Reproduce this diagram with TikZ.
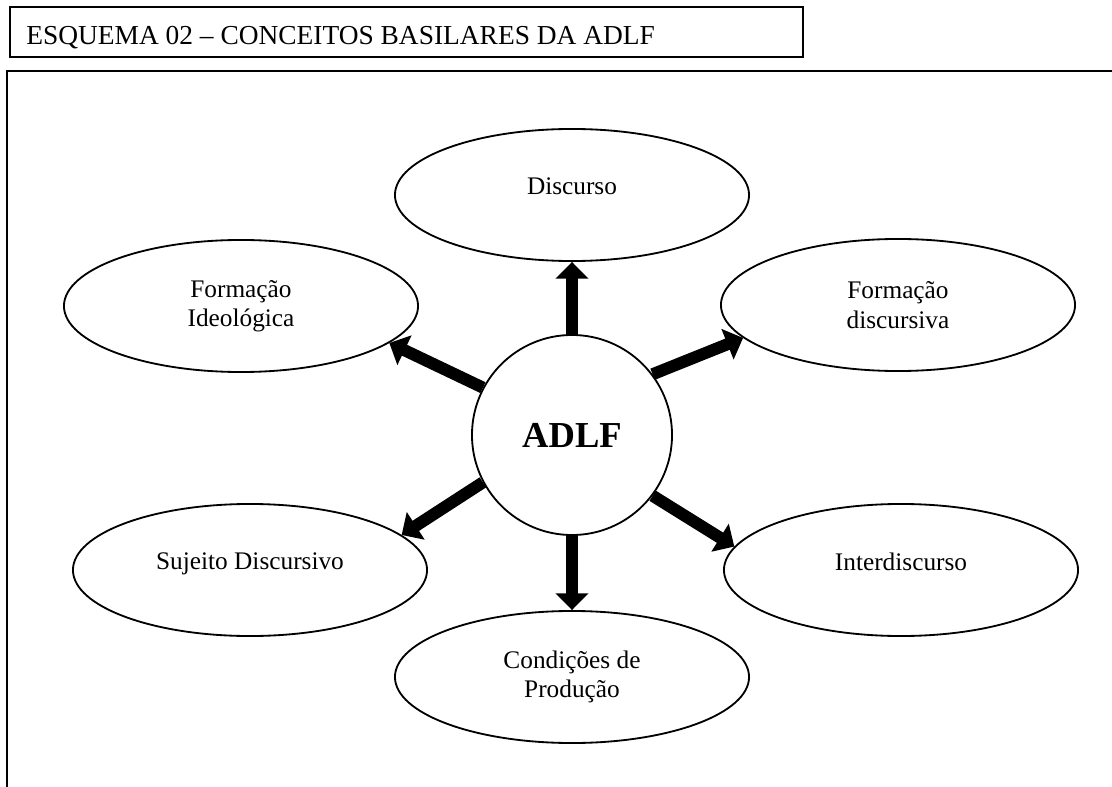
\documentclass[tikz,border=0pt]{standalone}
\usepackage{fontspec}
\setmainfont{Liberation Serif}
\usetikzlibrary{arrows.meta,shapes.geometric}

\tikzset{
  conceito/.style={draw, ellipse, line width=1.3pt, inner sep=0pt,
    minimum width=8.85cm, minimum height=3.3cm, align=center,
    font=\fontsize{18}{21}\selectfont},
  umalinha/.style={text depth=0.42cm},
  seta/.style={line width=0.3cm, -{Triangle[length=0.42cm,width=0.8cm]}}
}

\begin{document}
\begin{tikzpicture}[x=0.025cm, y=-0.025cm]
\useasboundingbox (0,0) rectangle (1112,787);

% Titulo
\draw[line width=1.1pt] (10,7) rectangle (803,57);
\node[anchor=base west, inner sep=0pt, font=\fontsize{19.5}{22}\selectfont] (titulo) at (26,45)
  {ESQUEMA 02 -- CONCEITOS BASILARES DA ADLF};

% Moldura
\draw[line width=2.1pt] (7,800) -- (7,71) -- (1120,71);

% Centro
\node[draw, circle, line width=1.3pt, minimum size=5cm, inner sep=0pt,
  font=\fontsize{26}{30}\selectfont\bfseries] (adlf) at (572,435) {ADLF};

% Conceitos
\node[conceito, umalinha] (disc) at (572,195) {Discurso};
\node[conceito] (fideo) at (241,306) {Formação\\Ideológica};
\node[conceito] (fdisc) at (898,305) {Formação\\discursiva};
\node[conceito, umalinha] (sujeito) at (250,570) {Sujeito Discursivo};
\node[conceito, umalinha] (inter) at (901,570) {Interdiscurso};
\node[conceito] (cond) at (572,677) {Condições de\\Produção};

% Setas
\draw[seta] (adlf.north) -- (disc.south);
\draw[seta] (adlf.152) -- (fideo.346);
\draw[seta] (adlf.37) -- (fdisc.192);
\draw[seta] (adlf.208) -- (sujeito.13);
\draw[seta] (adlf.323) -- (inter.172);
\draw[seta] (adlf.south) -- (cond.north);

\end{tikzpicture}
\end{document}
